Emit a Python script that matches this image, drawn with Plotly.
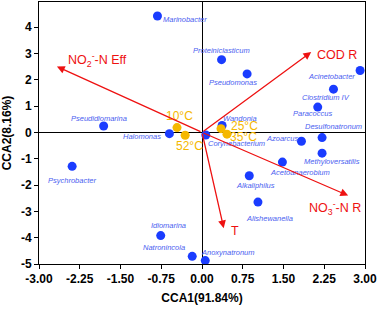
import plotly.graph_objects as go

# Genera (blue points)
genera = ["Marinobacter", "Pseudidiomarina", "Halomonas", "Proteiniclasticum", "Pseudomonas",
          "Acinetobacter", "Clostridium IV", "Paracoccus", "Desulfonatronum", "Azoarcus",
          "Wandonia", "Corynebacterium", "Methyloversatilis", "Acetoanaerobium", "Alkaliphilus",
          "Alishewanella", "Anoxynatronum", "Idiomarina", "Natronincola", "Psychrobacter"]
genus_x = [-0.82, -1.81, -0.60, 0.36, 0.83, 2.91, 2.42, 2.13, 2.21, 1.83,
           0.37, 0.07, 2.21, 1.48, 0.87, 1.03, 0.06, -0.76, -0.18, -2.39]
genus_y = [4.42, 0.24, -0.05, 2.76, 2.22, 2.35, 1.64, 0.96, -0.20, -0.34,
           0.26, -0.10, -0.79, -1.13, -1.65, -2.65, -4.87, -3.92, -4.71, -1.29]
# label offsets in pixels (xshift, yshift, xanchor)
genus_lbl = [(4, -4, "left"), (-5, 8, "center"), (-6, -3, "right"), (0, 9, "center"), (-14, -9, "center"),
             (-3, -6, "right"), (-7, -8, "center"), (-5, -6, "center"), (11, 11, "center"), (-19, 3, "center"),
             (18, 7, "center"), (0, -9, "left"), (10, -8, "center"), (18, -10, "center"), (6, -10, "center"),
             (12, -16, "center"), (23, 8, "center"), (8, 10, "center"), (-28, 9, "center"), (0, -14, "center")]

# Samples (temperature, orange points)
samples = ["10°C", "25°C", "35°C", "52°C"]
sample_x = [-0.46, 0.35, 0.46, -0.31]
sample_y = [0.18, 0.14, -0.07, -0.11]
sample_lbl = [(2, 12), (23, 3), (17, -3), (4, -11)]

# Environmental factors (red arrows)
env_names = ["NO<sub>2</sub><sup>-</sup>-N Eff", "COD R", "NO<sub>3</sub><sup>-</sup>-N R", "T"]
env_x = [-2.67, 2.01, 2.69, 0.40]
env_y = [2.50, 3.05, -2.40, -3.64]
env_lbl = [(9, 7), (4, -3), (-41, -12), (5, -3)]  # pixel offsets of label's left edge from arrow tip

x_ticks = [-3.0, -2.25, -1.5, -0.75, 0.0, 0.75, 1.5, 2.25, 3.0]
y_ticks = [-5, -4, -3, -2, -1, 0, 1, 2, 3, 4]

BLUE = "#1a3cff"
LBLUE = "#4a5ef0"
ORANGE = "#f5b800"
RED = "#ee1111"
FONT = "Arial, Liberation Sans, sans-serif"

fig = go.Figure()
fig.add_trace(go.Scatter(x=genus_x, y=genus_y, mode="markers",
                         marker=dict(size=9, color=BLUE), showlegend=False, hoverinfo="skip"))
fig.add_trace(go.Scatter(x=sample_x, y=sample_y, mode="markers",
                         marker=dict(size=9, color=ORANGE), showlegend=False, hoverinfo="skip"))

ann = []
for name, x, y, (dx, dy, xa) in zip(genera, genus_x, genus_y, genus_lbl):
    ann.append(dict(x=x, y=y, text=name, showarrow=False, xshift=dx, yshift=dy, xanchor=xa,
                    font=dict(family=FONT, size=7.5, color=LBLUE, style="italic")))
for name, x, y, (dx, dy) in zip(samples, sample_x, sample_y, sample_lbl):
    ann.append(dict(x=x, y=y, text=name, showarrow=False, xshift=dx, yshift=dy,
                    font=dict(family=FONT, size=12, color=ORANGE)))
for x, y in zip(env_x, env_y):
    ann.append(dict(x=x, y=y, ax=0, ay=0, axref="x", ayref="y", xref="x", yref="y", text="",
                    showarrow=True, arrowhead=2, arrowsize=1.2, arrowwidth=1.3, arrowcolor=RED))
for name, x, y, (dx, dy) in zip(env_names, env_x, env_y, env_lbl):
    ann.append(dict(x=x, y=y, text=name, showarrow=False, xanchor="left", yanchor="middle",
                    xshift=dx, yshift=dy, font=dict(family=FONT, size=12.5, color=RED)))

fig.update_layout(annotations=ann)

axis_common = dict(showgrid=False, showline=True, linecolor="black", linewidth=1, mirror=True,
                   ticks="outside", ticklen=4, tickcolor="black", automargin=False,
                   zeroline=True, zerolinecolor="black", zerolinewidth=1,
                   tickfont=dict(family=FONT, size=12, color="black", weight="bold"))
fig.update_xaxes(range=[-3, 3], tickvals=x_ticks, ticktext=[f"{v:.2f}" for v in x_ticks],
                 title=dict(text="<b>CCA1(91.84%)</b>", font=dict(family=FONT, size=12, color="black"), standoff=8),
                 **axis_common)
fig.update_yaxes(range=[-5, 4.95], tickvals=y_ticks, ticktext=[str(v) for v in y_ticks],
                 title=dict(text="<b>CCA2(8.16%)</b>", font=dict(family=FONT, size=12, color="black"), standoff=8),
                 **axis_common)

fig.update_layout(width=378, height=309, margin=dict(l=39, r=13, t=2, b=45, autoexpand=False),
                  plot_bgcolor="white", paper_bgcolor="white")
fig.write_html("out.html", config={"displayModeBar": False},
               post_script="document.body.style.margin='0';document.body.style.padding='0';"
                           "document.body.style.overflow='hidden';")
